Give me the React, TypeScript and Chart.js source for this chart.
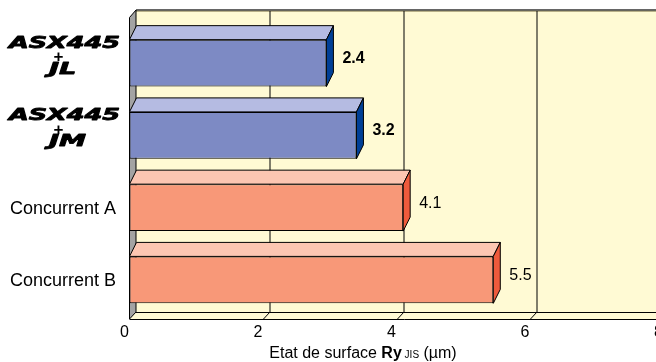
import { useEffect, useRef } from "react";
import { Chart, registerables } from "chart.js";

Chart.register(...registerables);

// ---- data ----
const categories = ["ASX445 + JL", "ASX445 + JM", "Concurrent A", "Concurrent B"];
const values = [2.95, 3.4, 4.1, 5.45];
const valueLabels = ["2.4", "3.2", "4.1", "5.5"];
const logoCodes = ["JL", "JM"]; // the two ASX445 logo categories
const xMin = 0;
const xMax = 8;
const xStep = 2;
const xTitleParts = [
  { text: "Etat de surface ", weight: "normal", size: 16 },
  { text: "Ry", weight: "bold", size: 16 },
  { text: " JIS", weight: "normal", size: 10 },
  { text: " (µm)", weight: "normal", size: 16 },
];

// ---- styles ----
const FONT = '"Liberation Sans", Arial, sans-serif';
const frontColors = ["#7D8AC4", "#7D8AC4", "#F89878", "#F89878"];
const topColors = ["#B5BBE2", "#B5BBE2", "#FCC6B2", "#FCC6B2"];
const sideColors = ["#003F96", "#003F96", "#EE5A3C", "#EE5A3C"];
const WALL_BG = "#FFFAD4";
const DX = 6.5; // wall depth (x)
const DY = 7.5; // wall depth (y)
const BDX = 7; // bar depth (x)
const BDY = 14; // bar depth (y)
const WALL_TOP = 10;
const FLOOR_BACK = 312;
const FLOOR_FRONT = 319;

const threeD = {
  id: "threeD",
  beforeDatasetsDraw(chart: any) {
    const ctx = chart.ctx as CanvasRenderingContext2D;
    const xs = chart.scales.x;
    const left = chart.chartArea.left;
    const W = chart.width;
    ctx.save();
    // back wall
    ctx.fillStyle = WALL_BG;
    ctx.fillRect(left + DX, WALL_TOP, W, FLOOR_BACK - WALL_TOP);
    ctx.strokeStyle = "#B8B088";
    ctx.lineWidth = 1;
    ctx.beginPath();
    ctx.moveTo(left + DX, WALL_TOP + 1.5);
    ctx.lineTo(W, WALL_TOP + 1.5);
    ctx.stroke();
    ctx.strokeStyle = "#333";
    ctx.lineWidth = 1.5;
    ctx.beginPath();
    ctx.moveTo(left + DX, WALL_TOP);
    ctx.lineTo(W, WALL_TOP);
    ctx.stroke();
    // floor
    ctx.fillStyle = WALL_BG;
    ctx.beginPath();
    ctx.moveTo(left, FLOOR_FRONT);
    ctx.lineTo(left + DX, FLOOR_BACK);
    ctx.lineTo(W + 20, FLOOR_BACK);
    ctx.lineTo(W + 20, FLOOR_FRONT);
    ctx.closePath();
    ctx.fill();
    ctx.strokeStyle = "#000";
    ctx.lineWidth = 1;
    ctx.beginPath();
    ctx.moveTo(left + DX, FLOOR_BACK + 0.5);
    ctx.lineTo(W, FLOOR_BACK + 0.5);
    ctx.moveTo(left, FLOOR_FRONT + 0.5);
    ctx.lineTo(W, FLOOR_FRONT + 0.5);
    ctx.stroke();
    // grid lines
    ctx.strokeStyle = "#000";
    ctx.lineWidth = 1;
    for (let v = xMin + xStep; v <= xMax; v += xStep) {
      const px = Math.round(xs.getPixelForValue(v)) + 0.5;
      ctx.beginPath();
      ctx.moveTo(px + DX, WALL_TOP + 1);
      ctx.lineTo(px + DX, FLOOR_BACK);
      ctx.lineTo(px, FLOOR_FRONT);
      ctx.stroke();
    }
    // left wall
    ctx.fillStyle = "#A3A3A3";
    ctx.beginPath();
    ctx.moveTo(left, WALL_TOP + DY);
    ctx.lineTo(left + DX, WALL_TOP);
    ctx.lineTo(left + DX, FLOOR_BACK);
    ctx.lineTo(left, FLOOR_FRONT);
    ctx.closePath();
    ctx.fill();
    ctx.strokeStyle = "#000";
    ctx.lineWidth = 1;
    ctx.stroke();
    ctx.restore();
  },
  afterDatasetsDraw(chart: any) {
    const ctx = chart.ctx as CanvasRenderingContext2D;
    const meta = chart.getDatasetMeta(0);
    ctx.save();
    meta.data.forEach((bar: any, i: number) => {
      const top = bar.y - bar.height / 2;
      const bottom = bar.y + bar.height / 2;
      const x0 = bar.base;
      const x1 = bar.x;
      ctx.lineWidth = 1;
      ctx.strokeStyle = "#000";
      ctx.lineJoin = "round";
      // top face
      ctx.fillStyle = topColors[i];
      ctx.beginPath();
      ctx.moveTo(x0, top);
      ctx.lineTo(x0 + BDX, top - BDY);
      ctx.lineTo(x1 + BDX, top - BDY);
      ctx.lineTo(x1, top);
      ctx.closePath();
      ctx.fill();
      ctx.stroke();
      // side face
      ctx.fillStyle = sideColors[i];
      ctx.beginPath();
      ctx.moveTo(x1, top);
      ctx.lineTo(x1 + BDX, top - BDY);
      ctx.lineTo(x1 + BDX, bottom - BDY);
      ctx.lineTo(x1, bottom);
      ctx.closePath();
      ctx.fill();
      ctx.stroke();
      // value label
      ctx.fillStyle = "#000";
      ctx.textAlign = "left";
      ctx.textBaseline = "alphabetic";
      ctx.font = `${i < logoCodes.length ? "bold " : ""}16px ${FONT}`;
      ctx.fillText(valueLabels[i], x1 + 16, bar.y);

      // category labels
      if (i < logoCodes.length) {
        ctx.save();
        ctx.font = 'italic bold 15px "DejaVu Sans"';
        const w = ctx.measureText("ASX445").width;
        const sx = 111 / w;
        ctx.translate(64.5, 0);
        ctx.scale(sx, 1);
        ctx.textAlign = "center";
        ctx.lineWidth = 0.8;
        ctx.strokeStyle = "#000";
        ctx.fillText("ASX445", 0, bar.y - 15);
        ctx.strokeText("ASX445", 0, bar.y - 15);
        ctx.textAlign = "left";
        ctx.font = 'italic bold 16px "DejaVu Sans"';
        const lx = (49 - 64.5) / sx;
        ctx.fillText(logoCodes[i], lx, bar.y + 11);
        ctx.strokeText(logoCodes[i], lx, bar.y + 11);
        ctx.restore();
        ctx.save();
        ctx.font = `bold 17px ${FONT}`;
        ctx.textAlign = "center";
        ctx.textBaseline = "middle";
        ctx.fillText("+", 58.5, bar.y - 5.5);
        ctx.restore();
      } else {
        ctx.font = `18px ${FONT}`;
        ctx.textAlign = "right";
        ctx.fillText(categories[i], 116, bar.y + 6.5);
      }
    });

    // x axis title (mixed styles)
    let total = 0;
    xTitleParts.forEach((p) => {
      ctx.font = `${p.weight} ${p.size}px ${FONT}`;
      total += ctx.measureText(p.text).width;
    });
    let cx = 363 - total / 2;
    ctx.textAlign = "left";
    ctx.textBaseline = "alphabetic";
    xTitleParts.forEach((p) => {
      ctx.font = `${p.weight} ${p.size}px ${FONT}`;
      ctx.fillText(p.text, cx, 358);
      cx += ctx.measureText(p.text).width;
    });
    ctx.restore();
  },
};

export default function App() {
  const ref = useRef<HTMLCanvasElement | null>(null);
  useEffect(() => {
    document.body.style.overflow = "hidden";
    const canvas = ref.current!;
    const chart = new Chart(canvas, {
      type: "bar",
      data: {
        labels: categories,
        datasets: [
          {
            data: values,
            backgroundColor: frontColors,
            borderColor: "#000",
            borderWidth: 1,
            borderSkipped: false,
            barPercentage: 0.65,
            categoryPercentage: 1,
          },
        ],
      },
      options: {
        indexAxis: "y",
        animation: false,
        responsive: false,
        layout: { padding: { left: 129.5, right: 16.5, top: 27, bottom: 0 } },
        plugins: { legend: { display: false }, tooltip: { enabled: false } },
        scales: {
          x: {
            min: xMin,
            max: xMax,
            ticks: {
              stepSize: xStep,
              color: "#000",
              font: { family: FONT, size: 16 },
              padding: 7,
              labelOffset: -5,
              maxRotation: 0,
              autoSkip: false,
            },
            grid: { display: false, drawTicks: false },
            border: { display: false },
            afterFit: (s: any) => {
              s.height = 46;
            },
          },
          y: { display: false },
        },
      },
      plugins: [threeD],
    } as any);
    return () => chart.destroy();
  }, []);
  return (
    <canvas
      ref={ref}
      width={680}
      height={362}
      style={{ position: "fixed", left: 0, top: 0, width: 680, height: 362 }}
    />
  );
}
